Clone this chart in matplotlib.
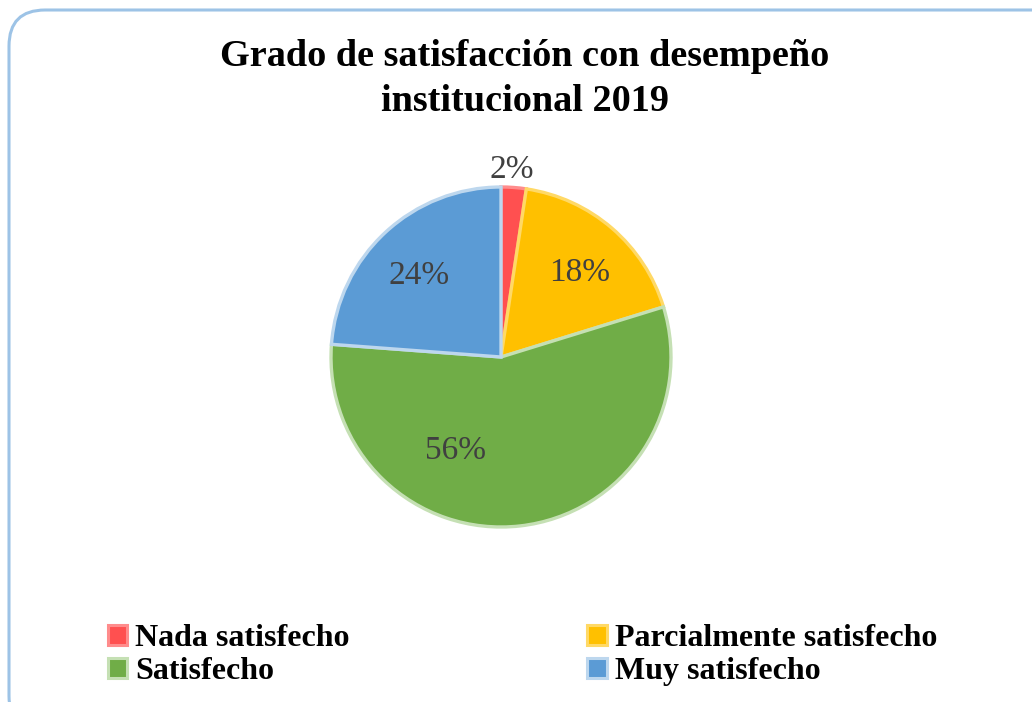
import matplotlib.pyplot as plt
from matplotlib.patches import FancyBboxPatch, Patch

# ── Data ────────────────────────────────────────────────────────────────────
categories = ["Nada satisfecho", "Parcialmente satisfecho", "Satisfecho", "Muy satisfecho"]
counts = [2, 15, 47, 20]
colors = ["#FF5050", "#FFC000", "#70AD47", "#5B9BD5"]
edge_colors = ["#FF8C8C", "#FFD966", "#C5E0B4", "#BDD7EE"]
title = "Grado de satisfacción con desempeño\ninstitucional 2019"

plt.rcParams["font.family"] = ["Liberation Serif", "DejaVu Serif"]

W, H = 1032, 702
fig = plt.figure(figsize=(W / 100, H / 100), dpi=100)

# rounded chart border (behind the axes)
border = FancyBboxPatch((9 / W, -30 / H), (W + 30) / W, (H + 20) / H,
                        boxstyle="round,pad=0,rounding_size=0.035",
                        transform=fig.transFigure, facecolor="white",
                        edgecolor="#9DC3E6", linewidth=2.2, mutation_aspect=W / H,
                        zorder=-1)
fig.patches.append(border)

# pie centred at (501, 357) px with radius ~170 px
cx, cy, r = 501, 357, 170
side = r * 2.5
ax = fig.add_axes([(cx - side / 2) / W, (H - cy - side / 2) / H, side / W, side / H])
ax.patch.set_alpha(0)

wedges, texts, autotexts = ax.pie(
    counts, colors=colors, startangle=90, counterclock=False,
    autopct="%.0f%%", pctdistance=0.71,
    wedgeprops=dict(linewidth=2.4),
    textprops=dict(fontsize=24, color="#404040", va="center"),
)
for w, ec in zip(wedges, edge_colors):
    w.set_edgecolor(ec)

# nudge labels to Excel's best-fit spots
for t in autotexts:
    x, y = t.get_position()
    t.set_position((x, y - 0.04))
autotexts[0].set_position((0.065, 1.1))
autotexts[2].set_position((-0.265, -0.55))
ax.set_xlim(-1.25, 1.25)
ax.set_ylim(-1.25, 1.25)

fig.text(525 / W, 1 - 79 / H, title, ha="center", va="center",
         fontsize=27.5, fontweight="bold", linespacing=1.38)

order = [0, 2, 1, 3]
handles = [Patch(facecolor=colors[i], edgecolor=edge_colors[i], linewidth=2.2) for i in order]
labels = [categories[i] for i in order]
fig.legend(handles, labels, ncol=2, loc="center left",
           bbox_to_anchor=(79 / W, 1 - 655 / H), frameon=False,
           prop=dict(size=23, weight="bold"), handlelength=0.6, handleheight=0.6,
           handletextpad=0.25, columnspacing=7.45, labelspacing=0.12)

fig.savefig("out.png", dpi=100)
